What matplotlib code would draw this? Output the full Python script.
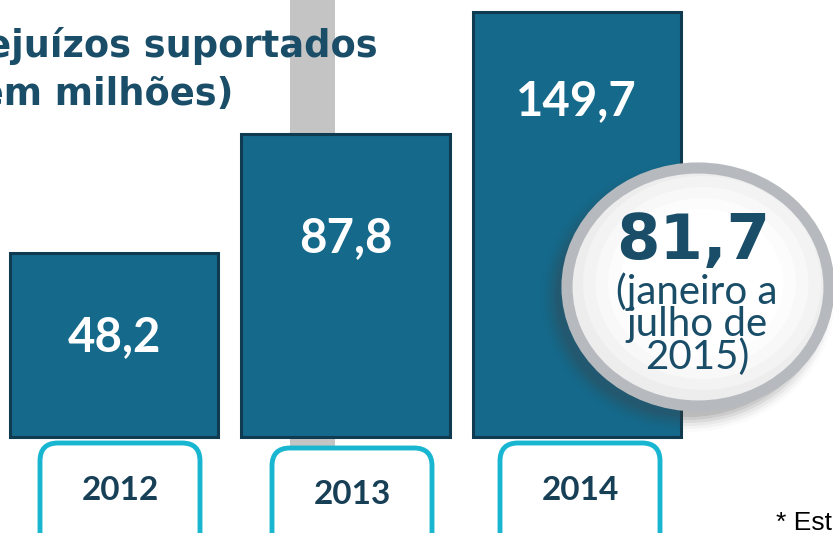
import numpy as np
import matplotlib.pyplot as plt
from matplotlib.patches import Ellipse, FancyBboxPatch, Rectangle

years = ['2012', '2013', '2014']
prejuizos = [48.2, 87.8, 149.7]
bar_labels = ['48,2', '87,8', '149,7']
parcial_2015 = '81,7'
parcial_nota = '(janeiro a\njulho de\n2015)'

navy = '#1a4d68'
bar_color = '#15698b'
edge_color = '#0f3a4f'
cyan = '#18b6d0'

fig = plt.figure(figsize=(8.33, 5.33), dpi=100)

# background layer (pixel coords): grey stripe
bg = fig.add_axes([0, 0, 1, 1], zorder=0)
bg.set_xlim(0, 833)
bg.set_ylim(533, 0)
bg.axis('off')
bg.add_patch(Rectangle((290, 0), 45, 470, color='#c4c4c4', lw=0))

# bars on a compressed (4th root) scale
ax = fig.add_axes([0, 96 / 533, 1, 437 / 533], zorder=1)
ax.patch.set_alpha(0)
fwd = lambda v: np.sign(v) * np.abs(v) ** 0.25
inv = lambda u: np.sign(u) * np.abs(u) ** 4
ax.set_yscale('function', functions=(fwd, inv))
base = 15.3
ax.set_ylim(base, 156.9)
ax.set_xlim(-0.494, 3.108)
ax.axis('off')

x = np.arange(len(years))
heights = [v - base for v in prejuizos]
bars = ax.bar(x, heights, bottom=base, width=0.9, color=bar_color,
              edgecolor=edge_color, linewidth=2.2, clip_on=False)

label_offsets = [84, 104, 90]
for xi, v, lab, off in zip(x, prejuizos, bar_labels, label_offsets):
    ax.annotate(lab, (xi, v), xytext=(0, -off * 0.72), textcoords='offset points',
                ha='center', va='center', color='white', fontsize=34,
                fontweight='bold', family='Lato')

# foreground layer (pixel coords)
fg = fig.add_axes([0, 0, 1, 1], zorder=2)
fg.set_xlim(0, 833)
fg.set_ylim(533, 0)
fg.axis('off')

# title (clipped at the left edge like the source)
fg.text(378, 57, 'Prejuízos suportados', ha='right', va='baseline',
        fontsize=26.5, fontweight='bold', color=navy, family='DejaVu Sans')
fg.text(233, 105, '(em milhões)', ha='right', va='baseline',
        fontsize=26.5, fontweight='bold', color=navy, family='DejaVu Sans')

# year boxes
box_left = [40, 272, 500]
box_top = [443, 448, 443]
for bl, bt, yr in zip(box_left, box_top, years):
    fg.add_patch(FancyBboxPatch((bl, bt), 160, 110,
                                boxstyle='round,pad=0,rounding_size=18',
                                facecolor='white', edgecolor=cyan, lw=3.5))
    fg.text(bl + 80, bt + 47, yr, ha='center', va='center', fontsize=24,
            fontweight='bold', color='#173f55', family='Lato')

# bubble for 2015 partial
cx, cy = 698, 287
for i, a in enumerate(np.linspace(0.12, 0.02, 6)):
    fg.add_patch(Ellipse((cx - 10, cy + 10), 264 + 6 * i, 240 + 6 * i,
                         facecolor='#444444', alpha=a, lw=0))
fg.add_patch(Ellipse((cx, cy), 262, 238, facecolor='#ededee',
                     edgecolor='#b6babe', lw=8))
for i, c in enumerate(['#f3f3f4', '#f8f8f9', '#fcfcfc', '#ffffff']):
    fg.add_patch(Ellipse((cx + 4, cy - 4), 238 - 25 * i, 214 - 22 * i,
                         facecolor=c, lw=0))

fg.text(693, 242, parcial_2015, ha='center', va='center', fontsize=45,
        fontweight='bold', color=navy, family='DejaVu Sans')
fg.text(697, 324, parcial_nota, ha='center', va='center', fontsize=29,
        color=navy, family='Lato', linespacing=0.85)

fg.text(776, 530, '* Estimativa', ha='left', va='baseline', fontsize=19,
        color='black', family='Liberation Sans')

plt.savefig('out.png', dpi=100)
